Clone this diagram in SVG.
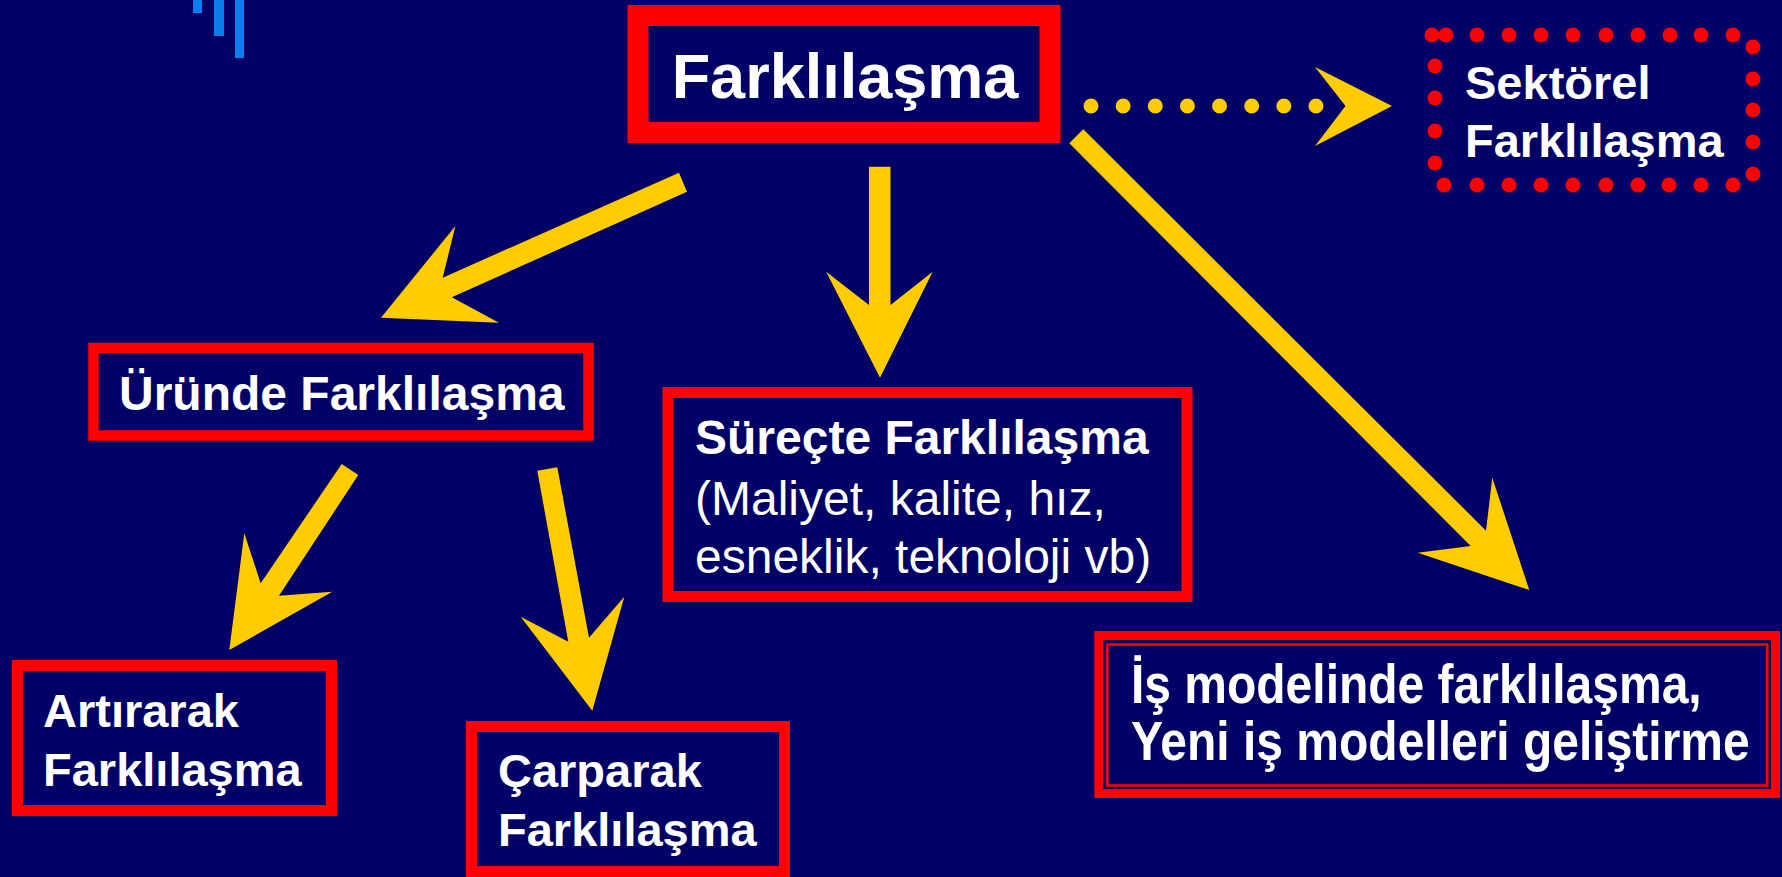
<svg xmlns="http://www.w3.org/2000/svg" width="1782" height="877" viewBox="0 0 1782 877">
  <style>
    .box { fill: none; stroke: #FF0000; }
    .t { font-family: "Liberation Sans", Arial, sans-serif; fill: #FFFFFF; }
    .b { font-weight: bold; }
    .arrow { fill: #FFCC00; }
    .dot { fill: #FF0000; }
  </style>
  <rect x="0" y="0" width="1782" height="877" fill="#000066"/>

  <!-- corner accent bars -->
  <g id="accent" fill="#0A7EF0">
    <rect x="193" y="0" width="9" height="13"/>
    <rect x="214" y="0" width="10" height="36"/>
    <rect x="235" y="0" width="9" height="58"/>
  </g>

  <!-- connectors -->
  <g id="connectors">
    <polygon class="arrow" points="679,172.7 687,191.7 451.8,297.3 499,322.7 381,317.7 455.4,226 442.7,277.7"/>
    <polygon class="arrow" points="869,166.7 890.5,166.7 890.5,305 932.7,271.7 880,377.7 826.2,271.7 869,305"/>
    <polygon class="arrow" points="1083.3,129.3 1486,530.7 1492.3,477.7 1529.3,590 1417.7,552.7 1470.7,546 1069.3,143.3"/>
    <polygon class="arrow" points="341.7,464 358.3,475 279,595.7 332.3,591.7 229.3,650 244.3,533.3 260.7,583.3"/>
    <polygon class="arrow" points="537.3,470.7 557.3,467.3 589,637.7 624.3,596.7 592.3,710.7 520.7,616.7 568.3,641.7"/>
    <line x1="1091" y1="106" x2="1316" y2="106" stroke="#FFCC00" stroke-width="15" stroke-linecap="round" stroke-dasharray="0 32.14"/>
    <polygon class="arrow" points="1315,67 1392,106 1315,146 1345.5,106"/>
  </g>

  <g id="farklilasma">
    <rect class="box" x="638" y="15.5" width="412" height="117" stroke-width="21"/>
    <text class="t b" x="845" y="98" font-size="63" text-anchor="middle">Farklılaşma</text>
  </g>

  <g id="sektorel">
    <g class="dot">
      <circle cx="1432" cy="35" r="7.5"/><circle cx="1446" cy="35" r="7.5"/>
      <circle cx="1477" cy="35" r="7.5"/><circle cx="1509" cy="35" r="7.5"/>
      <circle cx="1541" cy="35" r="7.5"/><circle cx="1573" cy="35" r="7.5"/>
      <circle cx="1606" cy="35" r="7.5"/><circle cx="1638" cy="35" r="7.5"/>
      <circle cx="1670" cy="35" r="7.5"/><circle cx="1701" cy="35" r="7.5"/>
      <circle cx="1733" cy="35" r="7.5"/>
      <circle cx="1753" cy="47" r="7.5"/><circle cx="1753" cy="79" r="7.5"/>
      <circle cx="1753" cy="110" r="7.5"/><circle cx="1753" cy="142" r="7.5"/>
      <circle cx="1753" cy="174" r="7.5"/>
      <circle cx="1444" cy="185" r="7.5"/><circle cx="1477" cy="185" r="7.5"/>
      <circle cx="1509" cy="185" r="7.5"/><circle cx="1541" cy="185" r="7.5"/>
      <circle cx="1573" cy="185" r="7.5"/><circle cx="1606" cy="185" r="7.5"/>
      <circle cx="1638" cy="185" r="7.5"/><circle cx="1669" cy="185" r="7.5"/>
      <circle cx="1701" cy="185" r="7.5"/><circle cx="1733" cy="185" r="7.5"/>
      <circle cx="1435" cy="66" r="7.5"/><circle cx="1435" cy="98" r="7.5"/>
      <circle cx="1435" cy="131" r="7.5"/><circle cx="1435" cy="163" r="7.5"/>
    </g>
    <text class="t b" x="1465" y="99" font-size="47">Sektörel</text>
    <text class="t b" x="1465" y="157" font-size="47">Farklılaşma</text>
  </g>

  <g id="urunde">
    <rect class="box" x="93.5" y="348" width="495" height="87.5" stroke-width="10.5"/>
    <text class="t b" x="119" y="410" font-size="48">Üründe Farklılaşma</text>
  </g>

  <g id="surecte">
    <rect class="box" x="668" y="392.5" width="519" height="204" stroke-width="11"/>
    <text class="t b" x="695" y="454" font-size="48">Süreçte Farklılaşma</text>
    <text class="t" x="695" y="515" font-size="48">(Maliyet, kalite, hız,</text>
    <text class="t" x="695" y="573" font-size="48">esneklik, teknoloji vb)</text>
  </g>

  <g id="artirarak">
    <rect class="box" x="17.5" y="665.5" width="314" height="145" stroke-width="11"/>
    <text class="t b" x="43" y="727" font-size="47">Artırarak</text>
    <text class="t b" x="43" y="786" font-size="47">Farklılaşma</text>
  </g>

  <g id="carparak">
    <rect class="box" x="471.5" y="726.5" width="313" height="145" stroke-width="11"/>
    <text class="t b" x="498" y="787" font-size="47">Çarparak</text>
    <text class="t b" x="498" y="846" font-size="47">Farklılaşma</text>
  </g>

  <g id="is-modeli">
    <rect class="box" x="1098.8" y="635.5" width="676.7" height="158" stroke-width="9"/>
    <rect class="box" x="1107.3" y="644.5" width="660" height="141" stroke-width="2.5"/>
    <!-- lettering here is set slightly tall -->
    <text class="t b" x="1131" y="0" font-size="48" transform="translate(0,703) scale(1,1.17)">İş modelinde farklılaşma,</text>
    <text class="t b" x="1131" y="0" font-size="48" transform="translate(0,760) scale(1,1.17)">Yeni iş modelleri geliştirme</text>
  </g>
</svg>
